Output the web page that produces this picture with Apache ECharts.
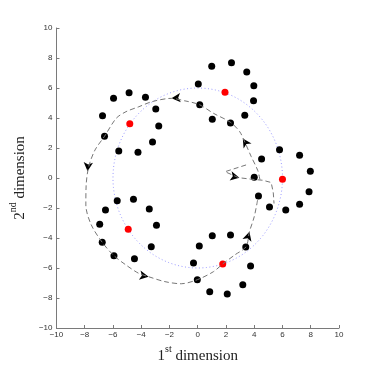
<!DOCTYPE html>
<html>
<head>
<meta charset="utf-8">
<script src="https://cdn.jsdelivr.net/npm/echarts@6/dist/echarts.min.js"></script>
<style>
  html, body { margin: 0; padding: 0; background: #fff; }
  #main { width: 374px; height: 369px; }
</style>
</head>
<body>
<div id="main"></div>
<script>
// black sample points (5 groups of 10)
var samplePoints = [
  [-4.86, 5.69], [-5.96, 5.31], [-3.70, 5.38], [-6.74, 4.15], [-2.97, 4.60],
  [-2.76, 3.47], [-6.60, 2.78], [-3.20, 2.40], [-5.59, 1.80], [-4.23, 1.71],
  [0.99, 7.45], [2.39, 7.69], [3.47, 7.07], [0.04, 6.27], [3.97, 6.15],
  [3.95, 5.15], [0.14, 4.89], [3.33, 4.18], [1.03, 3.91], [2.32, 3.67],
  [5.79, 1.89], [7.21, 1.51], [4.52, 1.27], [7.97, 0.45], [4.00, 0.05],
  [7.88, -0.91], [4.30, -1.20], [7.21, -1.75], [5.08, -1.93], [6.23, -2.13],
  [1.03, -3.85], [2.32, -3.80], [0.11, -4.53], [3.40, -4.60], [-0.30, -5.67],
  [3.74, -5.87], [-0.03, -6.78], [3.19, -7.11], [0.85, -7.58], [2.09, -7.73],
  [-4.55, -1.42], [-5.70, -1.51], [-3.43, -2.07], [-6.53, -2.13], [-6.94, -3.09],
  [-2.92, -3.15], [-6.76, -4.29], [-3.29, -4.58], [-5.93, -5.18], [-4.48, -5.38]
];
// red centres
var centres = [[-4.81, 3.62], [1.93, 5.71], [6.00, -0.09], [1.77, -5.73], [-4.92, -3.42]];
// dotted circle: centre x, centre y, radius
var circle = [[0, 0, 6]];
// dashed trajectory pieces
var pathStart = [[3.42, 0.87], [1.93, 0.42], [2.90, 0.02], [4.00, -0.10], [4.60, -0.15], [5.20, -0.30], [5.35, -1.00], [5.40, -1.70]];
var pathLoop = [
  [4.40, -0.10], [4.25, 0.50], [3.79, 1.42], [3.33, 2.40], [2.97, 3.09], [2.32, 3.71],
  [1.12, 4.31], [0.09, 4.90], [-0.94, 5.15], [-1.86, 5.31], [-3.24, 5.09], [-4.17, 4.75],
  [-5.08, 4.42], [-5.77, 3.98], [-6.60, 2.78], [-7.27, 1.87], [-7.72, 0.75], [-7.90, -0.50],
  [-7.92, -1.80], [-7.55, -3.10], [-6.76, -4.29], [-5.93, -5.18], [-5.08, -5.80], [-4.17, -6.36],
  [-3.48, -6.58], [-2.32, -6.91], [-1.17, -7.05], [-0.03, -6.78], [1.12, -6.24], [1.77, -5.73],
  [2.62, -5.13], [3.42, -4.58], [3.66, -3.58], [4.00, -2.58], [4.25, -1.40]
];
// arrow heads: x, y, rotation (deg, ccw from up)
var arrows = [
  [2.95, 0.02, -102], [3.19, 2.64, 32], [-1.86, 5.31, 95],
  [-7.80, 0.45, 175], [-3.48, -6.58, -100], [3.66, -3.58, -16]
];
var ticks = [-10, 10, 2];

function fmt(v) { return String(v).replace('-', '\u2212'); }

var axisCommon = {
  type: 'value',
  min: ticks[0], max: ticks[1], interval: ticks[2],
  nameLocation: 'middle',
  axisLine: { onZero: false, lineStyle: { color: '#7a7a7a', width: 1 } },
  axisTick: { inside: true, length: 3, lineStyle: { color: '#7a7a7a' } },
  axisLabel: { fontFamily: 'Liberation Sans', fontSize: 8, color: '#333', formatter: fmt },
  splitLine: { show: false }
};

var nameRich = {
  b: { fontFamily: 'Liberation Serif', fontSize: 15, color: '#222', lineHeight: 20, verticalAlign: 'bottom' },
  s: { fontFamily: 'Liberation Serif', fontSize: 10, color: '#222', lineHeight: 13, verticalAlign: 'top' }
};

var myChart = echarts.init(document.getElementById('main'), null, { renderer: 'canvas' });
var option = {
  backgroundColor: '#fff',
  animation: false,
  grid: { left: 49, right: 35, top: 28, bottom: 41 },
  xAxis: Object.assign({}, axisCommon, {
    name: '{b|1}{s|st}{b| dimension}',
    nameGap: 15,
    nameTextStyle: { rich: nameRich },
    axisLabel: Object.assign({}, axisCommon.axisLabel, { margin: 3 })
  }),
  yAxis: Object.assign({}, axisCommon, {
    name: '{b|2}{s|nd}{b| dimension}',
    nameGap: 22,
    nameTextStyle: { rich: nameRich },
    axisLabel: Object.assign({}, axisCommon.axisLabel, { margin: 4 })
  }),
  series: [
    {
      type: 'custom',
      data: circle,
      silent: true,
      renderItem: function (params, api) {
        var c = api.coord([api.value(0), api.value(1)]);
        var r = api.size([api.value(2), api.value(2)]);
        var pts = [];
        for (var i = 0; i <= 180; i++) {
          var a = i / 180 * Math.PI * 2;
          pts.push([c[0] + r[0] * Math.cos(a), c[1] - r[1] * Math.sin(a)]);
        }
        return {
          type: 'polyline',
          shape: { points: pts },
          style: { stroke: '#9a9aff', lineWidth: 1, lineDash: [1, 2.5], fill: null }
        };
      }
    },
    {
      type: 'line',
      data: pathStart,
      symbol: 'none',
      lineStyle: { color: '#777', width: 1, type: [5, 3] }
    },
    {
      type: 'line',
      data: pathLoop,
      symbol: 'none',
      smooth: 0.3,
      lineStyle: { color: '#777', width: 1, type: [5, 3] }
    },
    {
      type: 'scatter',
      data: arrows.map(function (a) { return { value: [a[0], a[1]], symbolRotate: a[2] }; }),
      symbol: 'arrow',
      symbolSize: [7, 9],
      itemStyle: { color: '#000', opacity: 1 }
    },
    {
      type: 'scatter',
      data: samplePoints,
      symbol: 'circle',
      symbolSize: 7,
      itemStyle: { color: '#000', opacity: 1 }
    },
    {
      type: 'scatter',
      data: centres,
      symbol: 'circle',
      symbolSize: 7,
      itemStyle: { color: '#ff0000', opacity: 1 }
    }
  ]
};
myChart.setOption(option);
</script>
</body>
</html>
